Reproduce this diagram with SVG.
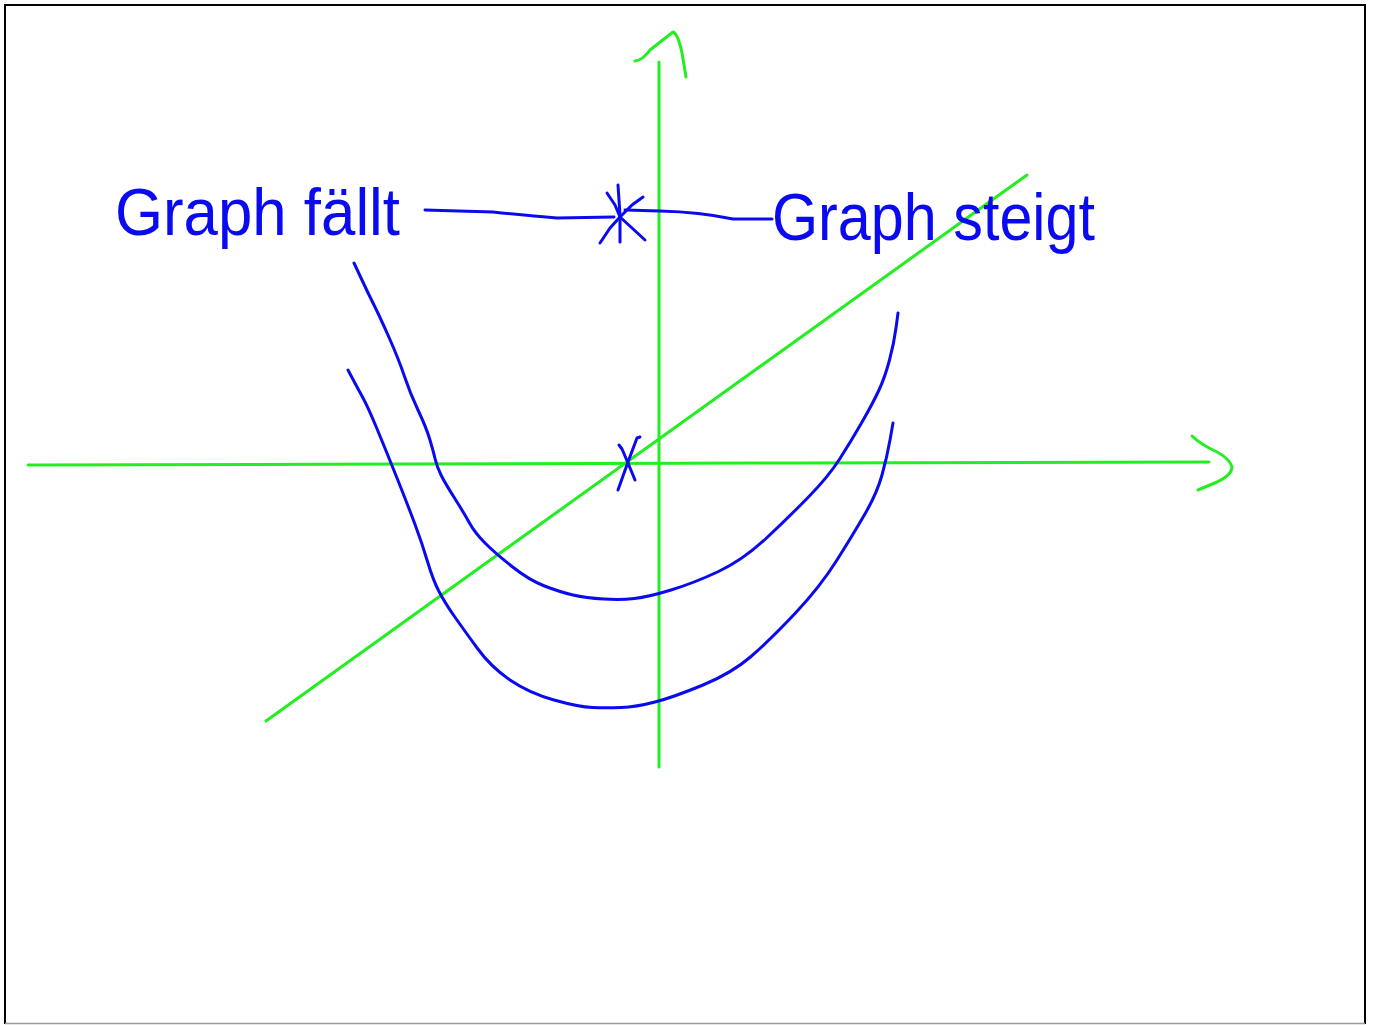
<svg xmlns="http://www.w3.org/2000/svg" width="1379" height="1025" viewBox="0 0 1379 1025">
<style>
.g{fill:none;stroke:#22ee22;stroke-width:3;stroke-linecap:round;stroke-linejoin:round}
.b{fill:none;stroke:#0a0af0;stroke-width:3;stroke-linecap:round;stroke-linejoin:round}
.t{font-family:"Liberation Sans","DejaVu Sans",sans-serif;font-size:66px;fill:#0a0af0}
</style>
<rect x="0" y="0" width="1379" height="1025" fill="#ffffff"/>
<path d="M5,1024 V5 H1365 V1024" fill="none" stroke="#000" stroke-width="2"/>
<line x1="5" y1="1023.5" x2="1365" y2="1023.5" stroke="#999" stroke-width="1.5"/>
<g id="axes">
<polyline class="g" points="28,465 400,464 800,463 1209,462"/>
<path class="g" d="M1192,436 Q1200,444 1217,452 Q1230,459 1232,467 Q1232,475 1217,482 L1198,490"/>
<line class="g" x1="659" y1="62" x2="659" y2="767"/>
<path class="g" d="M635,61 Q643,60 650,50 L673,32 Q678,34 682,53 L686,77"/>
<line class="g" x1="266" y1="721" x2="1027" y2="175"/>
</g>
<g id="curves">
<path class="b" d="M354,263 L361,278 Q368,293 374,305 Q380,317 389.5,338.5 Q399,360 404.5,376.5 Q410,393 418,410 Q426,427 429.5,438.5 Q433,450 435,458.5 Q437,467 441,475 Q445,483 454.5,498 Q464,513 469.5,523 Q475,533 485,543 Q495,553 512,566.5 Q529,580 544.5,586 Q560,592 573,595 Q586,598 603.5,599 Q621,600 634.5,598.5 Q648,597 671,590 Q694,583 718.5,571.5 Q743,560 766,538.5 Q789,517 808.5,497 Q828,477 839,460 Q850,443 861.5,423 Q873,403 879,390 Q885,377 889.5,360 Q894,343 896,328 L898,313"/>
<path class="b" d="M348,370 L352.5,378.5 Q357,387 362.5,397 Q368,407 377.5,430 Q387,453 397,478 Q407,503 414.5,523 Q422,543 427.5,561.5 Q433,580 439,591.5 Q445,603 454.5,616.5 Q464,630 477.5,648.5 Q491,667 510,680 Q529,693 554,700 Q579,707 592.5,707.5 Q606,708 621,707.5 Q636,707 655,702 Q674,697 703,685 Q732,673 751,656.5 Q770,640 795,613.5 Q820,587 837,560 Q854,533 865.5,513 Q877,493 882,475 Q887,457 890,440 L893,423"/>
</g>
<g id="origin-mark">
<polyline class="b" points="619,445 622,449 628,463 635,480"/>
<polyline class="b" points="640,437 637,438 628,462 618,490"/>
</g>
<g id="star-mark">
<polyline class="b" points="618,185 620,215 620,242"/>
<polyline class="b" points="607,193 615,205 620,217 632,228 645,240"/>
<polyline class="b" points="600,243 610,228 620,217 632,205 643,197"/>
</g>
<g id="connectors">
<path class="b" d="M425,210 L493,212 Q530,216 557,218 L614,217"/>
<path class="b" d="M625,210 L660,211 Q700,212 733,219 L772,219"/>
</g>
<g id="label-faellt">
<text class="t" x="115" y="235" textLength="285" lengthAdjust="spacingAndGlyphs">Graph fällt</text>
</g>
<g id="label-steigt">
<text class="t" x="772" y="240" textLength="323" lengthAdjust="spacingAndGlyphs">Graph steigt</text>
</g>
</svg>
